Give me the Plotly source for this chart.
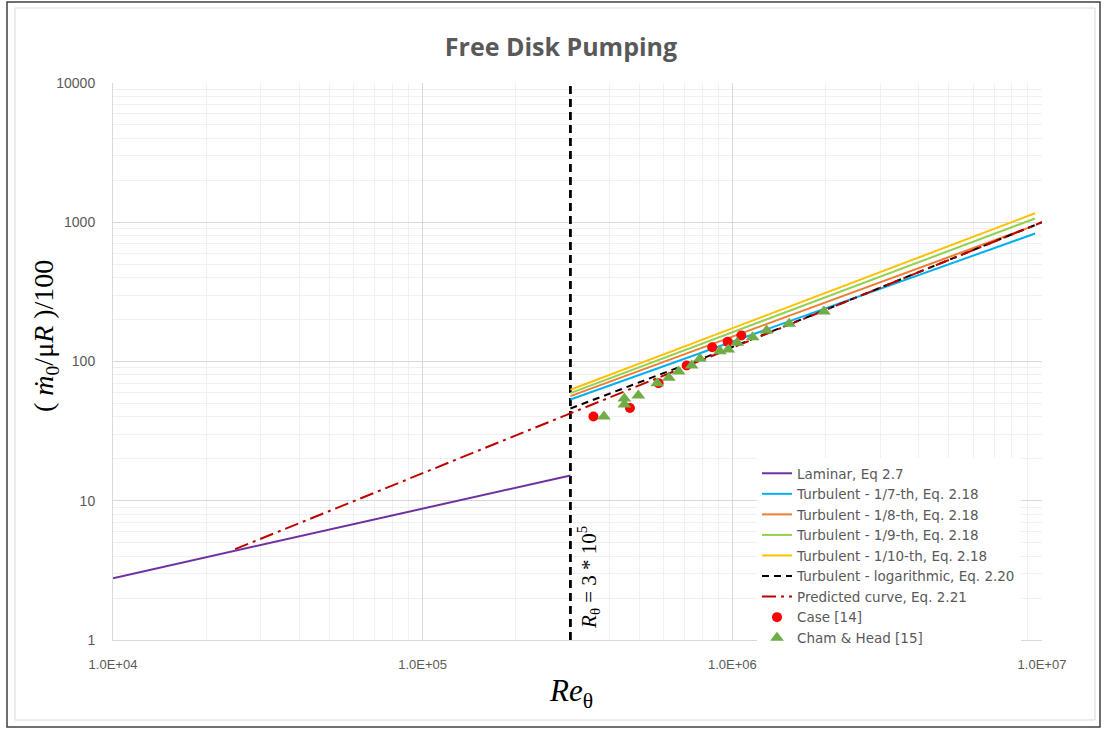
import numpy as np
import plotly.graph_objects as go

# ---------------- data ----------------
R_CRIT = 3e5

lam_re = [1e4, 3e5]
lam_m = [2.78, 15.2]

turb_re = [3e5, 9.5e6]
t7_m = [53.4, 830]
t8_m = [56.4, 950]
t9_m = [59.3, 1065]
t10_m = [62.7, 1160]

log_re = [3e5, 1e6, 1.8e6, 1e7]
log_m = [46.0, 127, 214, 1000]

pred_re = [2.48e4, 3e5, 1e6, 1e7]
pred_m = [4.49, 42.5, 126, 1000]

case_re = [3.56e5, 4.67e5, 5.78e5, 7.12e5, 8.61e5, 9.66e5, 1.069e6]
case_m = [40.3, 46.3, 69.9, 93.6, 126.7, 138.4, 153.6]

cham_re = [3.85e5, 4.48e5, 4.48e5, 4.97e5, 5.72e5, 6.24e5, 6.71e5, 7.39e5,
           7.86e5, 9.12e5, 9.70e5, 1.037e6, 1.163e6, 1.29e6, 1.526e6, 1.976e6]
cham_m = [40.3, 54.3, 49.2, 57.1, 69.9, 76.4, 84.8, 93.6,
          104.5, 118.6, 121.9, 136.2, 149.4, 166.8, 186.3, 228.2]

x_ticks = [1e4, 1e5, 1e6, 1e7]
x_ticktext = ["1.0E+04", "1.0E+05", "1.0E+06", "1.0E+07"]
y_ticks = [1, 10, 100, 1000, 10000]
y_ticktext = ["1", "10", "100", "1000", "10000"]

GRAY = "#595959"
FONT = "Liberation Sans"

fig = go.Figure()

# vertical critical line
fig.add_trace(go.Scatter(x=[R_CRIT, R_CRIT], y=[1, 10000], mode="lines",
                         line=dict(color="black", width=2.8, dash="8px,5px"),
                         showlegend=False, hoverinfo="skip"))

fig.add_trace(go.Scatter(x=lam_re, y=lam_m, mode="lines", name="Laminar, Eq 2.7",
                         line=dict(color="#7030A0", width=2)))
fig.add_trace(go.Scatter(x=turb_re, y=t7_m, mode="lines", name="Turbulent - 1/7-th, Eq. 2.18",
                         line=dict(color="#00B0F0", width=2)))
fig.add_trace(go.Scatter(x=turb_re, y=t8_m, mode="lines", name="Turbulent - 1/8-th, Eq. 2.18",
                         line=dict(color="#ED7D31", width=2)))
fig.add_trace(go.Scatter(x=turb_re, y=t9_m, mode="lines", name="Turbulent - 1/9-th, Eq. 2.18",
                         line=dict(color="#92D050", width=2)))
fig.add_trace(go.Scatter(x=turb_re, y=t10_m, mode="lines", name="Turbulent - 1/10-th, Eq. 2.18",
                         line=dict(color="#FFC000", width=2)))
fig.add_trace(go.Scatter(x=log_re, y=log_m, mode="lines", name="Turbulent - logarithmic, Eq. 2.20",
                         line=dict(color="black", width=2, dash="7px,5px")))
fig.add_trace(go.Scatter(x=pred_re, y=pred_m, mode="lines", name="Predicted curve, Eq. 2.21",
                         line=dict(color="#C00000", width=2, dash="14px,5px,3px,5px")))
fig.add_trace(go.Scatter(x=case_re, y=case_m, mode="markers", name="Case [14]",
                         marker=dict(color="#FF0000", size=10, symbol="circle")))
fig.add_trace(go.Scatter(x=cham_re, y=cham_m, mode="markers", name="Cham & Head [15]",
                         marker=dict(color="#70AD47", size=12, symbol="triangle-up")))

# plot-area geometry
L, R, T, B = 113, 1042, 83, 640
W, H = 1105, 729
pw, ph = R - L, B - T

def px(xp):
    return (xp - L) / pw

def py(yp):
    return (B - yp) / ph

shapes = [
    dict(type="rect", xref="paper", yref="paper", x0=px(7), x1=px(1100), y0=py(727), y1=py(2),
         line=dict(color="#404040", width=1.5), fillcolor="rgba(0,0,0,0)", layer="below"),
    dict(type="rect", xref="paper", yref="paper", x0=px(15), x1=px(1095), y0=py(720), y1=py(8),
         line=dict(color="#D9D9D9", width=1), fillcolor="rgba(0,0,0,0)", layer="below"),
]

fig.update_layout(
    width=W, height=H,
    margin=dict(l=L, r=W - R, t=T, b=H - B),
    paper_bgcolor="white", plot_bgcolor="white",
    font=dict(family=FONT, color=GRAY, size=13),
    title=dict(text="<b>Free Disk Pumping</b>", x=561 / W, xanchor="center",
               y=1 - 47 / H, yanchor="middle",
               font=dict(family="Open Sans", size=25, color=GRAY)),
    xaxis=dict(type="log", range=[4, 7], tickvals=x_ticks, ticktext=x_ticktext,
               showgrid=True, gridcolor="#D9D9D9", gridwidth=1,
               minor=dict(showgrid=True, gridcolor="#F0F0F0", dtick="D1"),
               showline=True, linecolor="#D9D9D9", linewidth=1, mirror=False,
               ticks="", ticklabelstandoff=12, zeroline=False,
               tickfont=dict(size=13, color=GRAY, family=FONT)),
    yaxis=dict(type="log", range=[0, 4], tickvals=y_ticks, ticktext=y_ticktext,
               showgrid=True, gridcolor="#D9D9D9", gridwidth=1,
               minor=dict(showgrid=True, gridcolor="#F0F0F0", dtick="D1"),
               showline=True, linecolor="#D9D9D9", linewidth=1,
               ticks="", ticklabelstandoff=14, zeroline=False,
               tickfont=dict(size=14, color=GRAY, family=FONT)),
    legend=dict(x=px(757), y=py(458), xanchor="left", yanchor="top",
                bgcolor="white", borderwidth=0, itemwidth=30,
                font=dict(family="DejaVu Sans", size=13.5, color=GRAY), tracegroupgap=0),
    shapes=shapes,
    annotations=[
        dict(x=np.log10(R_CRIT), xref="x", y=py(577), yref="paper",
             text="<i>R</i><sub>θ</sub> = 3 * 10<sup>5</sup>", textangle=-90,
             xanchor="left", yanchor="middle", xshift=1, showarrow=False,
             font=dict(family="Liberation Serif", size=21, color="black")),
        dict(x=px(45), xref="paper", y=py(336), yref="paper",
             text="( <i>ṁ</i><sub>0</sub>/μ<i>R</i> )/100", textangle=-90,
             xanchor="center", yanchor="middle", showarrow=False,
             font=dict(family="Liberation Serif", size=28, color="black")),
        dict(x=px(571), xref="paper", y=py(693), yref="paper",
             text="<i>Re</i><sub>θ</sub>",
             xanchor="center", yanchor="middle", showarrow=False,
             font=dict(family="Liberation Serif", size=31, color="black")),
    ],
)

fig.write_html("out.html")
